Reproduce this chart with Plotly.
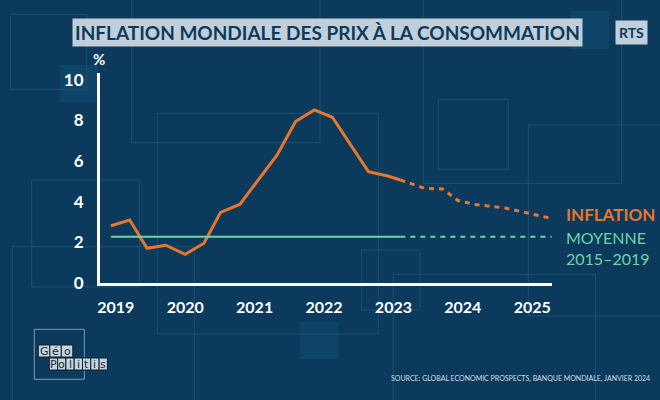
import plotly.graph_objects as go

# ---- data ----
hist_years = [2018.93, 2019.20, 2019.45, 2019.72, 2020.00, 2020.27, 2020.51, 2020.79,
              2021.05, 2021.32, 2021.59, 2021.86, 2022.12, 2022.38, 2022.64, 2022.92, 2023.10]
hist_infl = [2.82, 3.10, 1.71, 1.86, 1.41, 1.96, 3.48, 3.88,
             5.07, 6.28, 7.95, 8.52, 8.16, 6.80, 5.48, 5.27, 5.07]
fc_years = [2023.10, 2023.45, 2023.71, 2023.93, 2024.17, 2024.39, 2024.61, 2025.28]
fc_infl = [5.07, 4.66, 4.63, 4.06, 3.87, 3.79, 3.69, 3.18]
avg_2015_2019 = 2.28
year_ticks = [2019, 2020, 2021, 2022, 2023, 2024, 2025]
y_ticks = [0, 2, 4, 6, 8, 10]

BG = "#0b3a5c"
ORANGE = "#e8772b"
GREEN = "#72d3a6"
DECO = "#195075"
FILL = "#0e4467"
FONT = "Lato"

W, H = 660, 400
L, R, T, B = 100, 552, 73, 283


def px(x):
    return (x - L) / (R - L)


def py(y):
    return (B - y) / (B - T)


fig = go.Figure()

fig.add_trace(go.Scatter(x=hist_years, y=hist_infl, mode="lines",
                         line=dict(color=ORANGE, width=3), hoverinfo="skip", showlegend=False))
fig.add_trace(go.Scatter(x=fc_years, y=fc_infl, mode="lines",
                         line=dict(color=ORANGE, width=3, dash="5px,5px"), hoverinfo="skip", showlegend=False))
fig.add_trace(go.Scatter(x=[hist_years[0], hist_years[-1]], y=[avg_2015_2019] * 2, mode="lines",
                         line=dict(color=GREEN, width=2), hoverinfo="skip", showlegend=False))
fig.add_trace(go.Scatter(x=[fc_years[0], fc_years[-1]], y=[avg_2015_2019] * 2, mode="lines",
                         line=dict(color=GREEN, width=2, dash="5px,5px"), hoverinfo="skip", showlegend=False))

# decorative background rectangles (pixel coords -> paper)
outline_rects = [
    (10.7, 14.3, 86.7, 89.3),
    (131.7, -5, 320, 142.7),
    (157.3, 113.3, 378.3, 334),
    (31.7, 180, 139.3, 287),
    (12.3, 246.7, 194.3, 410),
    (361.7, 250, 420, 310),
    (393.3, 274.3, 595.5, 410),
    (528.3, 125, 670, 316),
    (438.3, 99.3, 508.3, 169.3),
    (423.3, -5, 621.7, 183.3),
]
filled_rects = [
    (60, 65, 98, 102),
    (571, 11, 609, 49),
    (300, 322, 338, 359),
]
shapes = []
for x0, y0, x1, y1 in filled_rects:
    shapes.append(dict(type="rect", xref="paper", yref="paper", layer="below",
                       x0=px(x0), x1=px(x1), y0=py(y1), y1=py(y0),
                       fillcolor=FILL, line=dict(width=0)))
for x0, y0, x1, y1 in outline_rects:
    shapes.append(dict(type="rect", xref="paper", yref="paper", layer="below",
                       x0=px(x0), x1=px(x1), y0=py(y1), y1=py(y0),
                       line=dict(color=DECO, width=1)))
# logo frame
shapes.append(dict(type="rect", xref="paper", yref="paper",
                   x0=px(34.3), x1=px(84.3), y0=py(379.3), y1=py(329.3),
                   line=dict(color="#7d9db6", width=1)))

annotations = [
    dict(text="<b>INFLATION MONDIALE DES PRIX À LA CONSOMMATION</b>", xref="paper", yref="paper",
         x=px(327), y=py(32), xanchor="center", yanchor="middle", showarrow=False,
         font=dict(family=FONT, size=19, color="#0d3a5c"), bgcolor="rgba(203,215,225,0.95)",
         borderpad=2),
    dict(text="<b>RTS</b>", xref="paper", yref="paper",
         x=px(631.5), y=py(32.5), xanchor="center", yanchor="middle", showarrow=False,
         font=dict(family=FONT, size=14, color="#0d3a5c"), bgcolor="rgba(203,215,225,0.95)",
         borderpad=3),
    dict(text="<b>%</b>", xref="paper", yref="paper", x=px(99), y=py(59),
         xanchor="center", yanchor="middle", showarrow=False,
         font=dict(family=FONT, size=15, color="white")),
    dict(text="<b>INFLATION</b>", xref="paper", yref="paper", x=px(564), y=py(214),
         xanchor="left", yanchor="middle", showarrow=False,
         font=dict(family=FONT, size=17, color=ORANGE)),
    dict(text="MOYENNE<br>2015–2019", xref="paper", yref="paper", x=px(564), y=py(248),
         xanchor="left", yanchor="middle", align="left", showarrow=False,
         font=dict(family=FONT, size=16, color=GREEN)),
    dict(text="SOURCE: GLOBAL ECONOMIC PROSPECTS, BANQUE MONDIALE, JANVIER 2024",
         xref="paper", yref="paper", x=px(652), y=py(378), xanchor="right", yanchor="middle",
         showarrow=False, font=dict(family=FONT, size=7, color="#d5dee6")),
]

# logo letters: light tiles with dark outline, letter on top
logo_rows = [("Géo", 38.3, 351, 11.5), ("Politis", 49.3, 364, 8.3)]
for word, x_start, y_c, w in logo_rows:
    for i, ch in enumerate(word):
        x0 = x_start + i * w
        shapes.append(dict(type="rect", xref="paper", yref="paper",
                           x0=px(x0), x1=px(x0 + w), y0=py(y_c + 6), y1=py(y_c - 6),
                           fillcolor="#c9d3dc", line=dict(color="#0a1f30", width=1)))
        annotations.append(dict(text=ch, xref="paper", yref="paper",
                                x=px(x0 + w / 2), y=py(y_c), xanchor="center", yanchor="middle",
                                showarrow=False,
                                font=dict(family="DejaVu Sans", size=11, color="#1a2a38")))

fig.update_layout(
    width=W, height=H,
    margin=dict(l=L, r=W - R, t=T, b=H - B),
    paper_bgcolor=BG, plot_bgcolor="rgba(0,0,0,0)",
    shapes=shapes, annotations=annotations,
    xaxis=dict(range=[2018.772, 2025.285], tickvals=year_ticks, ticktext=[str(y) for y in year_ticks],
               showgrid=False, zeroline=False, showline=True, linecolor="white", linewidth=3,
               ticks="", ticklabelstandoff=8,
               tickfont=dict(family=FONT, size=16, color="white", weight="bold")),
    yaxis=dict(range=[0, 10.34], tickvals=y_ticks, showgrid=False, zeroline=False,
               showline=True, linecolor="white", linewidth=3, ticks="", ticklabelstandoff=10,
               tickfont=dict(family=FONT, size=17, color="white", weight="bold")),
)

fig.write_html("out.html", config={"displayModeBar": False},
               post_script="document.body.style.margin='0';document.body.style.overflow='hidden';")
